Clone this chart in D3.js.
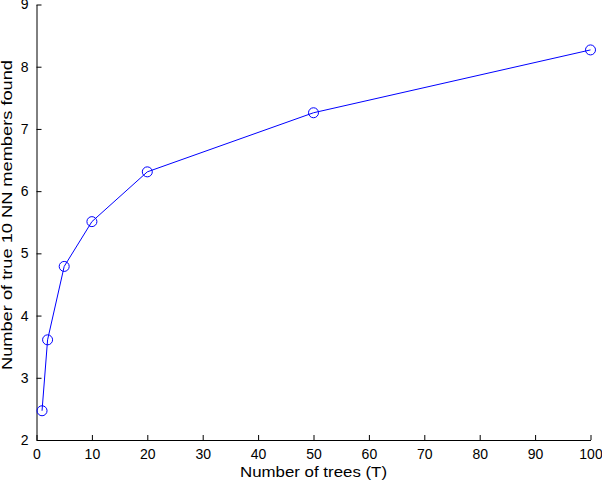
<!DOCTYPE html>
<html><head><meta charset="utf-8">
<script src="https://cdn.jsdelivr.net/npm/d3@7/dist/d3.min.js"></script>
<style>body{margin:0;background:#fff}svg{display:block}text{font-family:"Liberation Sans",Arial,sans-serif}</style>
</head><body><svg width="602" height="484"></svg>
<script>
const trees = [1, 2, 5, 10, 20, 50, 100];
const found = [2.47, 3.61, 4.79, 5.51, 6.31, 7.26, 8.27];
const xTicks = [0,10,20,30,40,50,60,70,80,90,100];
const yTicks = [2,3,4,5,6,7,8,9];

const svg = d3.select("svg");
const x = d3.scaleLinear().domain([0,100]).range([36.5, 590.5]);
const y = d3.scaleLinear().domain([2,9]).range([440, 4.5]);

const xAxis = d3.axisBottom(x).tickValues(xTicks).tickFormat(d3.format("d")).tickSizeInner(-5).tickSizeOuter(0).tickPadding(9);
const yAxis = d3.axisLeft(y).tickValues(yTicks).tickFormat(d3.format("d")).tickSizeInner(-5).tickSizeOuter(0).tickPadding(8);

const gx = svg.append("g").attr("transform","translate(0,440)").call(xAxis);
const gy = svg.append("g").attr("transform","translate(36.5,0)").call(yAxis);
[gx, gy].forEach(g => {
  g.selectAll("path.domain").attr("stroke","#000");
  g.selectAll(".tick line").attr("stroke","#000");
  g.selectAll("text").attr("fill","#000").style("font-size","14px").style("font-family",'"Liberation Sans",Arial,sans-serif');
});
gx.selectAll("text").attr("dy","0.71em");

const pts = trees.map((t,i)=>[t, found[i]]);
svg.append("path").datum(pts)
  .attr("fill","none").attr("stroke","#0000ff").attr("stroke-width",1)
  .attr("d", d3.line().x(d=>x(d[0])).y(d=>y(d[1])));
svg.selectAll("circle.m").data(pts).join("circle")
  .attr("cx",d=>x(d[0])).attr("cy",d=>y(d[1])).attr("r",5)
  .attr("fill","none").attr("stroke","#0000ff").attr("stroke-width",1);

svg.append("text").attr("x", 240).attr("y", 477)
  .attr("textLength",147).attr("lengthAdjust","spacingAndGlyphs")
  .style("font-size","14px").text("Number of trees (T)");
svg.append("text").attr("transform","translate(12,370) rotate(-90)")
  .attr("textLength",310).attr("lengthAdjust","spacingAndGlyphs")
  .style("font-size","14px").text("Number of true 10 NN members found");
</script></body></html>
